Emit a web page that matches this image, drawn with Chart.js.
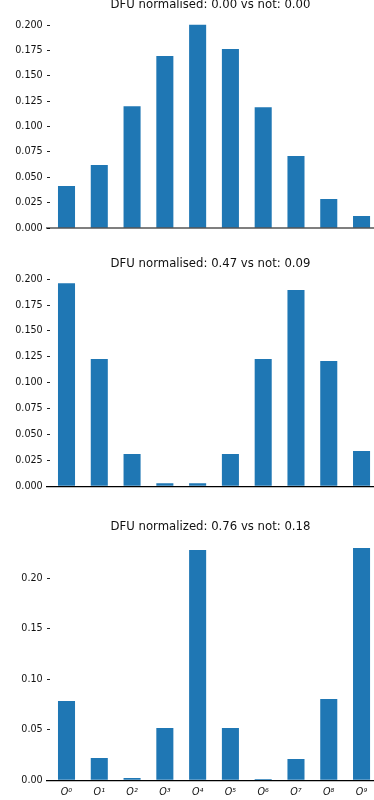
<!DOCTYPE html>
<html>
<head>
<meta charset="utf-8">
<script src="https://cdn.jsdelivr.net/npm/chart.js@4/dist/chart.umd.min.js"></script>
<style>
  html, body { margin: 0; padding: 0; background: #fff; width: 374px; height: 800px; overflow: hidden; }
  .box { position: absolute; left: 0; width: 374px; }
  canvas { display: block; }
</style>
</head>
<body>
<div class="box" id="b1"><canvas id="c1"></canvas></div>
<div class="box" id="b2"><canvas id="c2"></canvas></div>
<div class="box" id="b3"><canvas id="c3"></canvas></div>
<script>
// ---- data ----
const xLabels = ['O⁰', 'O¹', 'O²', 'O³', 'O⁴', 'O⁵', 'O⁶', 'O⁷', 'O⁸', 'O⁹'];

const title1 = 'DFU normalised: 0.00 vs not: 0.00';
const title2 = 'DFU normalised: 0.47 vs not: 0.09';
const title3 = 'DFU normalized: 0.76 vs not: 0.18';

const values1 = [0.0414, 0.062, 0.120, 0.1695, 0.2002, 0.1765, 0.119, 0.071, 0.0286, 0.0118];
const values2 = [0.196, 0.1229, 0.0312, 0.003, 0.003, 0.0312, 0.1229, 0.1895, 0.121, 0.034];
const values3 = [0.0785, 0.022, 0.0023, 0.0518, 0.228, 0.0518, 0.0013, 0.021, 0.0805, 0.230];

const yTicks1 = [0, 0.025, 0.05, 0.075, 0.1, 0.125, 0.15, 0.175, 0.2];
const yTicks2 = [0, 0.025, 0.05, 0.075, 0.1, 0.125, 0.15, 0.175, 0.2];
const yTicks3 = [0, 0.05, 0.1, 0.15, 0.2];

// ---- rendering ----
const FONT = 'DejaVu Sans';
const BLUE = '#1f77b4';
const TITLE_SIZE = 11.7;
const TICK_SIZE = 9.6;
const TITLE_LH = TITLE_SIZE * 1.2;

function makeChart(cfg) {
  const divTop = Math.floor(cfg.titleCenter - TITLE_LH / 2);
  const padTop = cfg.titleCenter - TITLE_LH / 2 - divTop;
  const padBottom = cfg.areaTop - divTop - padTop - TITLE_LH;
  const H = Math.round(cfg.areaBottom - divTop + cfg.xh);
  const xh = H - (cfg.areaBottom - divTop);
  const box = document.getElementById(cfg.box);
  box.style.top = divTop + 'px';
  box.style.height = H + 'px';
  const canvas = document.getElementById(cfg.canvas);
  canvas.width = 374; canvas.height = H;
  canvas.style.width = '374px'; canvas.style.height = H + 'px';

  return new Chart(canvas, {
    type: 'bar',
    data: {
      datasets: [{
        data: cfg.values.map((v, i) => ({ x: i, y: v })),
        backgroundColor: BLUE,
        borderWidth: 0,
        barPercentage: 0.52,
        categoryPercentage: 1.0
      }]
    },
    options: {
      responsive: false,
      animation: false,
      devicePixelRatio: 1,
      layout: { padding: 0 },
      plugins: {
        legend: { display: false },
        tooltip: { enabled: false },
        title: {
          display: true,
          fullSize: false,
          text: cfg.title,
          color: '#111',
          font: { family: FONT, size: TITLE_SIZE, weight: 'normal', lineHeight: 1.2 },
          padding: { top: padTop, bottom: padBottom }
        }
      },
      scales: {
        x: {
          type: 'linear',
          offset: false,
          min: -0.595,
          max: 9.38,
          afterBuildTicks: (s) => { s.ticks = xLabels.map((_, i) => ({ value: i })); },
          afterFit: (s) => { s.height = xh; },
          grid: { display: false, drawTicks: false, offset: false },
          border: cfg.border,
          ticks: {
            display: cfg.showX,
            autoSkip: false,
            maxRotation: 0,
            minRotation: 0,
            padding: 6,
            color: '#111',
            font: { family: FONT, size: TICK_SIZE, style: 'italic' },
            callback: (v) => xLabels[Math.round(v)]
          }
        },
        y: {
          min: 0,
          max: cfg.ymax,
          afterBuildTicks: (s) => { s.ticks = cfg.yTicks.map(v => ({ value: v })); },
          afterFit: (s) => { s.width = 47; },
          grid: { display: true, drawOnChartArea: false, drawTicks: true, tickLength: -3, color: '#222', lineWidth: 1 },
          border: { display: false },
          ticks: {
            padding: 7.3,
            color: '#111',
            font: { family: FONT, size: TICK_SIZE },
            callback: (v) => Number(v).toFixed(cfg.decimals)
          }
        }
      }
    }
  });
}

makeChart({
  box: 'b1', canvas: 'c1', title: title1, values: values1, yTicks: yTicks1,
  titleCenter: 5, areaTop: 14.4, areaBottom: 228, xh: 16, ymax: 0.2105, decimals: 3,
  showX: false, border: { display: true, color: 'rgba(0,0,0,0.5)', width: 2, z: 1 }
});
makeChart({
  box: 'b2', canvas: 'c2', title: title2, values: values2, yTicks: yTicks2,
  titleCenter: 264.3, areaTop: 273.1, areaBottom: 486.3, xh: 16, ymax: 0.2058, decimals: 3,
  showX: false, border: { display: true, color: '#000', width: 1.2, z: 1 }
});
makeChart({
  box: 'b3', canvas: 'c3', title: title3, values: values3, yTicks: yTicks3,
  titleCenter: 526.7, areaTop: 536.4, areaBottom: 780.3, xh: 19.7, ymax: 0.2415, decimals: 2,
  showX: true, border: { display: true, color: '#000', width: 1.2, z: 1 }
});
</script>
</body>
</html>
